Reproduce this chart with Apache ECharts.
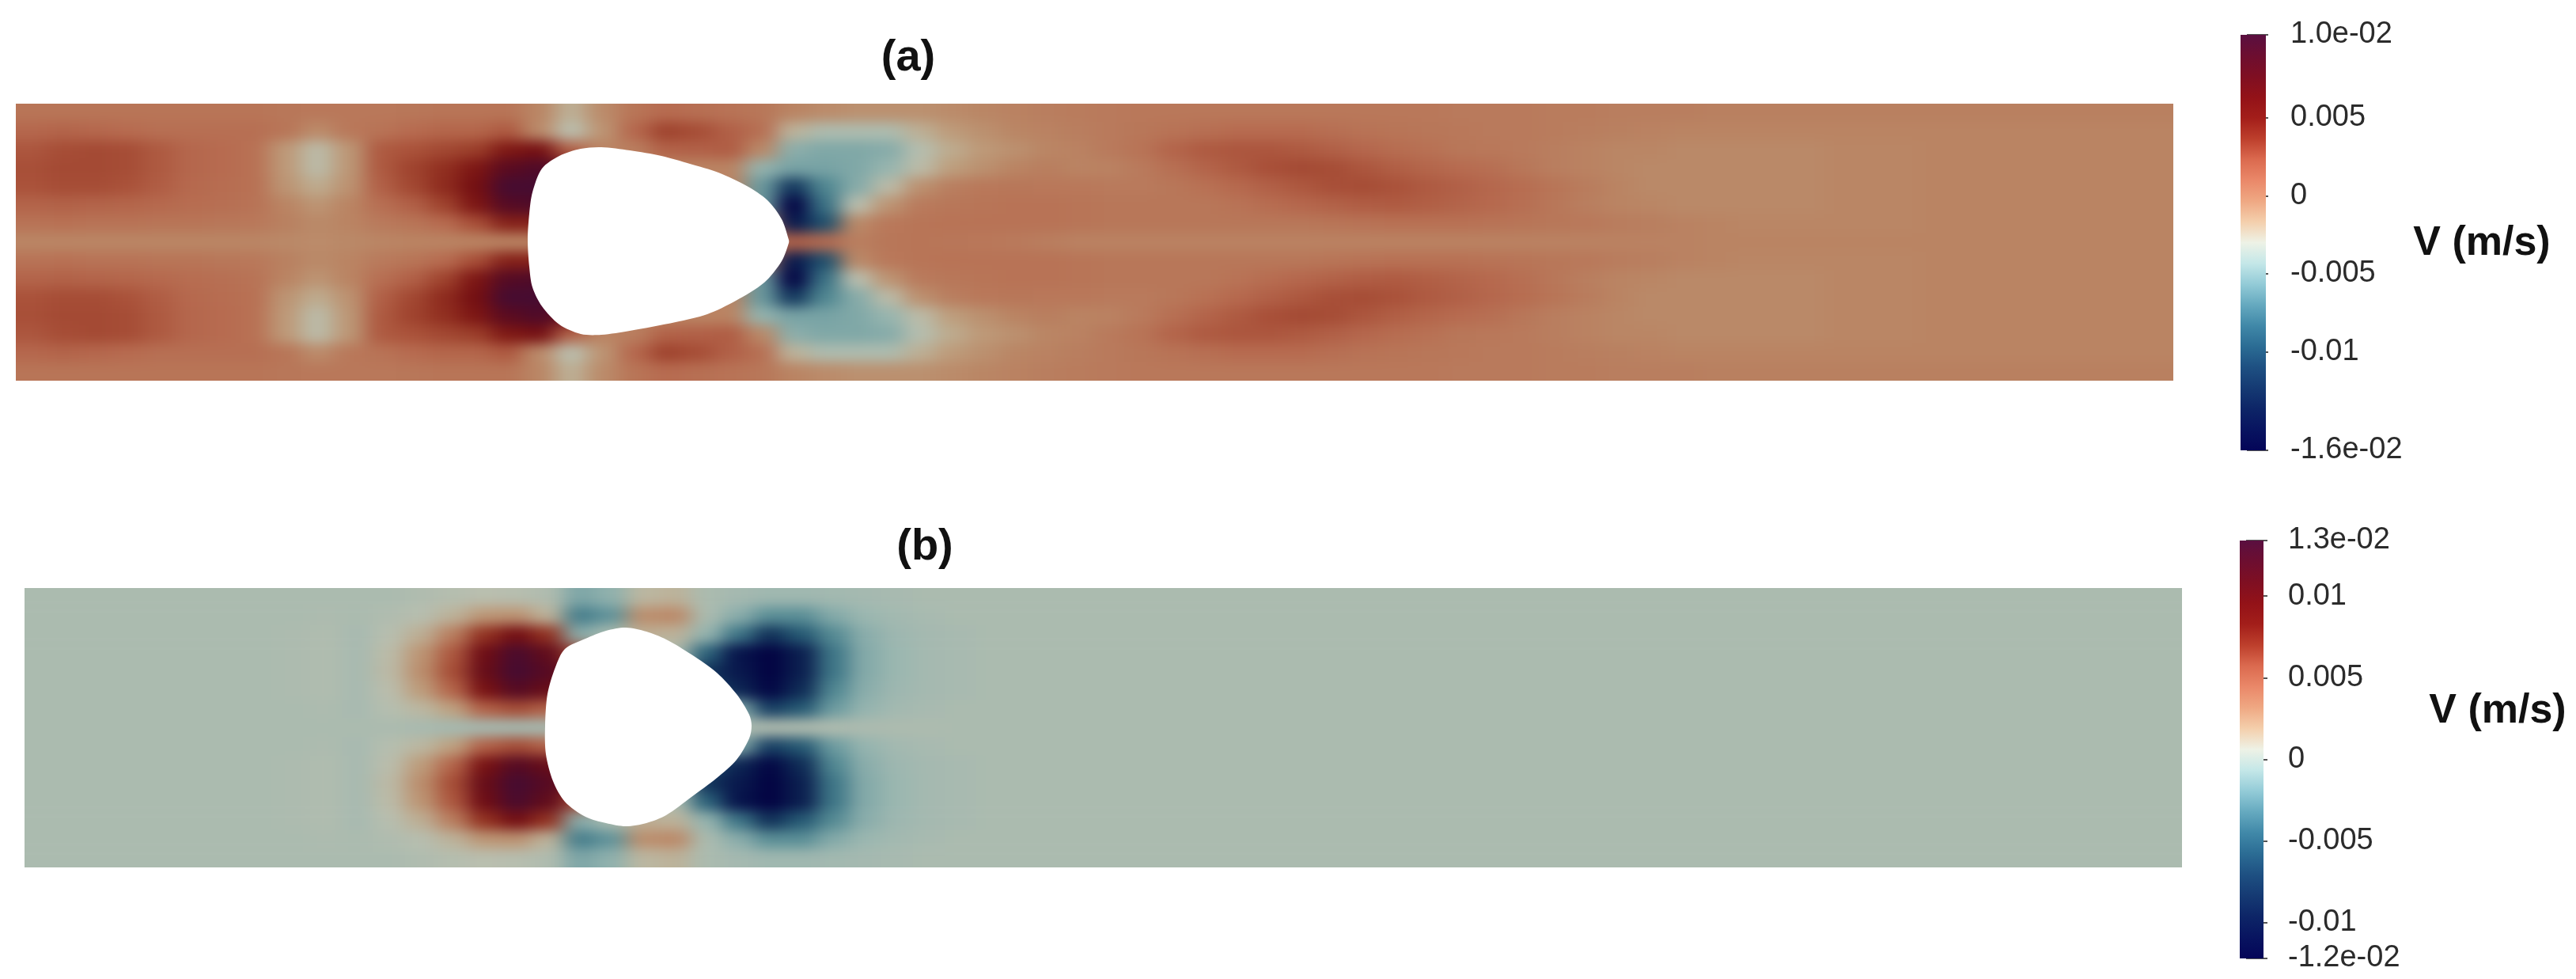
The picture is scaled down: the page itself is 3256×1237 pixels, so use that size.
<!DOCTYPE html>
<html>
<head>
<meta charset="utf-8">
<script src="https://cdn.jsdelivr.net/npm/echarts@6/dist/echarts.min.js"></script>
<style>
  html, body { margin: 0; background: #fff; }
  #clip { position: absolute; left: 0; top: 0; width: 3256px; height: 1237px; overflow: hidden;
    clip-path: path('M20 131H2747V481H20Z M31 743H2758V1096H31Z'); }
  #field { position: absolute; left: -100px; top: 0; width: 3456px; height: 1237px; filter: url(#soft); }
  #top { position: absolute; left: 0; top: 0; width: 3256px; height: 1237px; }
</style>
</head>
<body>
<svg width="0" height="0" style="position:absolute">
  <filter id="soft" x="0" y="0" width="100%" height="100%" color-interpolation-filters="sRGB">
    <feGaussianBlur stdDeviation="13 8"/>
  </filter>
</svg>
<div id="clip"><div id="field"></div></div>
<div id="top"></div>
<script>
// V in 1e-4 m/s, upper half of each channel (row 7 = centre line), lower half is the mirror
var rowsA = [
  [5,5,5,5,5,5,5,5,4,3, 3,3,4,5,5,5,-4,-22,-6,5, 10,8,6,4,-3,-6,-8,-8,-8,-6, -4,-2,0,1,2,3,3,3,3,3, 3,3,3,3,3,2,2,2,1,1, 0,0,0,-1,-1,-1,-1,-1,-1,-1, -1,-1,-1,-1,-1,-1,-1,-1],
  [12,14,12,10,8,8,8,8,5,-6, 3,6,10,13,13,20,-6,-30,-10,12, 30,26,16,8,-24,-35,-35,-35,-22,-13, -8,-4,-2,0,2,4,6,8,10,10, 10,8,6,5,4,3,2,2,1,0, -1,-2,-3,-3,-3,-3,-3,-3,-3,-3, -3,-3,-3,-3,-3,-3,-3,-3],
  [22,26,27,26,20,12,10,7,-12,-28, -11,20,24,28,32,50,60,15,-3,0, 15,16,18,-5,-48,-52,-52,-50,-32,-20, -12,-8,-4,-2,2,6,14,20,22,22, 20,16,12,9,7,4,3,2,0,-2, -4,-4,-5,-5,-5,-5,-5,-4,-4,-4, -3,-3,-3,-3,-3,-3,-3,-3],
  [25,27,27,26,20,12,10,7,-12,-28, -11,20,30,38,52,85,95,70,0,-3, -3,-3,-3,-45,-55,-55,-52,-44,-28,-14, -8,-3,0,-3,-2,2,8,14,20,25, 27,26,22,17,13,10,8,4,0,-2, -4,-5,-5,-5,-5,-5,-5,-4,-4,-4, -3,-3,-3,-3,-3,-3,-3,-3],
  [24,26,26,24,18,11,9,7,-10,-20, -9,16,28,40,62,103,103,80,0,0, 0,0,-3,-60,-115,-70,-50,-28,-8,0, 3,4,3,3,2,2,4,7,11,16, 21,25,26,24,20,16,12,9,5,1, -3,-5,-5,-5,-5,-5,-5,-4,-4,-4, -3,-3,-3,-3,-3,-3,-3,-3],
  [14,15,14,13,11,9,8,6,-3,-10, -3,8,16,30,52,90,95,80,0,0, 0,0,0,-60,-163,-80,-30,-10,2,4, 5,6,6,5,4,4,4,4,6,9, 12,15,18,19,17,14,11,8,4,0, -3,-4,-5,-5,-5,-5,-5,-4,-4,-4, -3,-3,-3,-3,-3,-3,-3,-3],
  [6,7,6,6,5,5,4,3,-1,-5, -3,2,5,10,25,45,45,30,0,0, 0,0,0,0,-140,-100,-5,3,5,6, 6,6,6,5,4,4,4,4,4,4, 4,5,6,7,7,7,6,5,4,3, 1,0,-2,-3,-4,-4,-4,-4,-4,-4, -3,-3,-3,-3,-3,-3,-3,-3],
  [-4,-4,-4,-4,-4,-4,-4,-4,-5,-6, -5,-4,-3,-3,-3,-3,-3,-3,-3,-3, -3,-3,-3,5,15,10,0,4,5,4, 3,2,0,-2,-2,-2,-2,-2,-2,-2, -2,-2,-2,-2,-2,-2,-2,-2,-2,-2, -2,-2,-2,-3,-3,-3,-3,-3,-3,-3, -3,-3,-3,-3,-3,-3,-3,-3]
];
// columns past the last value are at rest (0)
var rowsB = [
  [0,0,0,0,0,0,0,0,0,0, 0,0,2,4,6,5,2,-16,-10,10, 12,0,-2,-4,-4,-3,-2,-1],
  [0,0,0,0,0,0,0,0,0,1, 0,2,5,12,24,26,12,-36,-26,28, 30,0,-12,-28,-28,-14,-6,-3,-1],
  [0,0,0,0,0,0,0,0,1,2, -1,5,14,35,70,95,70,-12,0,14, 12,-8,-40,-80,-55,-30,-12,-5,-2,-1],
  [0,0,0,0,0,0,0,0,1,2, -1,8,25,55,100,130,110,60,0,0, 0,-50,-105,-122,-95,-40,-14,-6,-2,-1],
  [0,0,0,0,0,0,0,0,1,2, -1,9,28,60,105,134,120,90,0,0, 0,-80,-100,-122,-95,-40,-14,-6,-2,-1],
  [0,0,0,0,0,0,0,0,1,2, -1,7,22,48,90,120,105,80,0,0, 0,-60,-90,-118,-85,-32,-12,-5,-2,-1],
  [0,0,0,0,0,0,0,0,0,1, -1,4,10,20,50,60,50,20,0,0, 0,0,-15,-70,-55,-22,-8,-3,-1],
  [0,0,0,0,0,0,0,0,0,0, 0,0,-1,-2,-2,-2,-2,0,0,0, 0,0,0,2,2,2,1,1,1]
];
var obstacleA = [[647,172],[649,139],[653,112],[665,82],[687,66],[714,57],[740,55],[776,59],[816,66],[852,76],[888,87],[924,104],[950,122],[968,146],[977,172],[977,176],[968,199],[946,226],[910,249],[874,266],[834,276],[776,287],[740,292],[714,291],[687,279],[665,256],[653,232],[649,206]];
var obstacleB = [[658,174],[661,134],[671,100],[683,77],[709,64],[735,54],[760,50],[786,55],[811,65],[843,84],[875,107],[900,134],[916,160],[919,174],[916,190],[900,217],[875,240],[843,264],[811,287],[786,297],[760,301],[735,297],[709,289],[683,270],[668,244],[659,210]];

var rangeA = [-163, 103];
var rangeB = [-122, 134];
var ticksA = [103, 50, 0, -50, -100, -163];
var ticksB = [134, 100, 50, 0, -50, -100, -122];
var labelsA = ['1.0e-02', '0.005', '0', '-0.005', '-0.01', '-1.6e-02'];
var labelsB = ['1.3e-02', '0.01', '0.005', '0', '-0.005', '-0.01', '-1.2e-02'];

// colour bar, sampled evenly from bottom to top
var barColors = ['#040558','#081460','#0d2567','#153a73','#1e5082','#2b6c94','#4088a8','#65a9bf','#93cbd7','#c4e7e8','#eef2e6','#f4cfac','#efa883','#ea8869','#db6a4f','#bd3f2c','#a31e1a','#931218','#7f0f22','#6d0e30','#5a0f40'];

// the surface in the picture is lit, so it is darker than its own colour bar
function shade(hex) {
  var n = parseInt(hex.slice(1), 16);
  return 'rgb(' + Math.round((n >> 16) * 0.78) + ',' + Math.round(((n >> 8) & 255) * 0.79) + ',' + Math.round((n & 255) * 0.76) + ')';
}
var fieldColors = barColors.map(shade);

var padCols = 2, padRows = 3, nCols = 68, nRows = 15;

function cells(rows) {
  var out = [];
  for (var r = -padRows; r < nRows + padRows; r++) {
    var rr = Math.max(0, Math.min(nRows - 1, r));
    var row = rows[rr > 7 ? 14 - rr : rr];
    for (var c = -padCols; c < nCols + padCols; c++) {
      var cc = Math.max(0, Math.min(nCols - 1, c));
      var v = row[cc] === undefined ? 0 : row[cc];
      out.push([c + padCols, r + padRows, v]);
    }
  }
  return out;
}
function indexList(n) {
  var a = [];
  for (var i = 0; i < n; i++) a.push(i);
  return a;
}

var cw = 2727 / nCols;
var colList = indexList(nCols + 2 * padCols), rowList = indexList(nRows + 2 * padRows);

function fieldGrid(left, top, h) {
  var rh = h / nRows;
  return { left: left + 100 - padCols * cw, top: top - padRows * rh, width: (nCols + 2 * padCols) * cw, height: (nRows + 2 * padRows) * rh };
}

var field = echarts.init(document.getElementById('field'));
field.setOption({
  animation: false,
  grid: [fieldGrid(20, 131, 350), fieldGrid(31, 743, 353)],
  xAxis: [0, 1].map(function (i) { return { type: 'category', gridIndex: i, show: false, data: colList }; }),
  yAxis: [0, 1].map(function (i) { return { type: 'category', gridIndex: i, show: false, inverse: true, data: rowList }; }),
  visualMap: [
    { show: false, seriesIndex: 0, min: rangeA[0], max: rangeA[1], inRange: { color: fieldColors } },
    { show: false, seriesIndex: 1, min: rangeB[0], max: rangeB[1], inRange: { color: fieldColors } }
  ],
  series: [
    { type: 'heatmap', xAxisIndex: 0, yAxisIndex: 0, progressive: 0, data: cells(rowsA) },
    { type: 'heatmap', xAxisIndex: 1, yAxisIndex: 1, progressive: 0, data: cells(rowsB) }
  ]
});

function obstacleSeries(i, outline) {
  return {
    type: 'custom', xAxisIndex: i, yAxisIndex: i, silent: true, clip: false, data: [[0, 0]],
    renderItem: function (params, api) {
      return { type: 'polygon', shape: { smooth: 0.3, points: outline.map(function (p) { return api.coord(p); }) }, style: { fill: '#fff' } };
    }
  };
}
// colour bar as one rectangle spanning the value axis
function barSeries(i, range) {
  var stops = barColors.map(function (c, k) { return { offset: 1 - k / (barColors.length - 1), color: c }; }).reverse();
  return {
    type: 'custom', xAxisIndex: i, yAxisIndex: i, silent: true, clip: false, data: [[0, range[0]]],
    renderItem: function (params, api) {
      var a = api.coord([0, range[1]]), b = api.coord([1, range[0]]);
      return {
        type: 'rect', shape: { x: a[0], y: a[1], width: b[0] - a[0], height: b[1] - a[1] },
        style: { fill: new echarts.graphic.LinearGradient(0, 0, 0, 1, stops) }
      };
    }
  };
}
function barAxis(i, range, ticks, labels) {
  return {
    type: 'value', gridIndex: i, position: 'right', offset: -8, min: range[0], max: range[1],
    splitLine: { show: false }, axisLine: { show: false },
    axisTick: { show: true, length: 27, customValues: ticks, lineStyle: { color: '#555', width: 2 } },
    axisLabel: {
      show: true, customValues: ticks, margin: 39, color: '#2b2b2b', fontFamily: 'Liberation Sans', fontSize: 38,
      formatter: function (v) { return labels[ticks.indexOf(v)]; }
    }
  };
}
function titleText(text, x, y, size) {
  return { text: text, left: x, top: y, textAlign: 'center', padding: 0, textStyle: { fontFamily: 'Liberation Sans', fontWeight: 'bold', fontSize: size, color: '#111' } };
}

var chart = echarts.init(document.getElementById('top'));
chart.setOption({
  animation: false,
  title: [
    titleText('(a)', 1148, 46, 56),
    titleText('(b)', 1169, 664, 56),
    titleText('V (m/s)', 3137, 282, 52),
    titleText('V (m/s)', 3157, 873, 52)
  ],
  grid: [
    { left: 20, top: 131, width: 2727, height: 350 },
    { left: 31, top: 743, width: 2727, height: 353 },
    { left: 2832, top: 44, width: 32, height: 525 },
    { left: 2831, top: 683, width: 30, height: 528 }
  ],
  xAxis: [
    { type: 'value', gridIndex: 0, show: false, min: 0, max: 2727 },
    { type: 'value', gridIndex: 1, show: false, min: 0, max: 2727 },
    { type: 'value', gridIndex: 2, show: false, min: 0, max: 1 },
    { type: 'value', gridIndex: 3, show: false, min: 0, max: 1 }
  ],
  yAxis: [
    { type: 'value', gridIndex: 0, show: false, inverse: true, min: 0, max: 350 },
    { type: 'value', gridIndex: 1, show: false, inverse: true, min: 0, max: 353 },
    barAxis(2, rangeA, ticksA, labelsA),
    barAxis(3, rangeB, ticksB, labelsB)
  ],
  series: [obstacleSeries(0, obstacleA), obstacleSeries(1, obstacleB), barSeries(2, rangeA), barSeries(3, rangeB)]
});
</script>
</body>
</html>
